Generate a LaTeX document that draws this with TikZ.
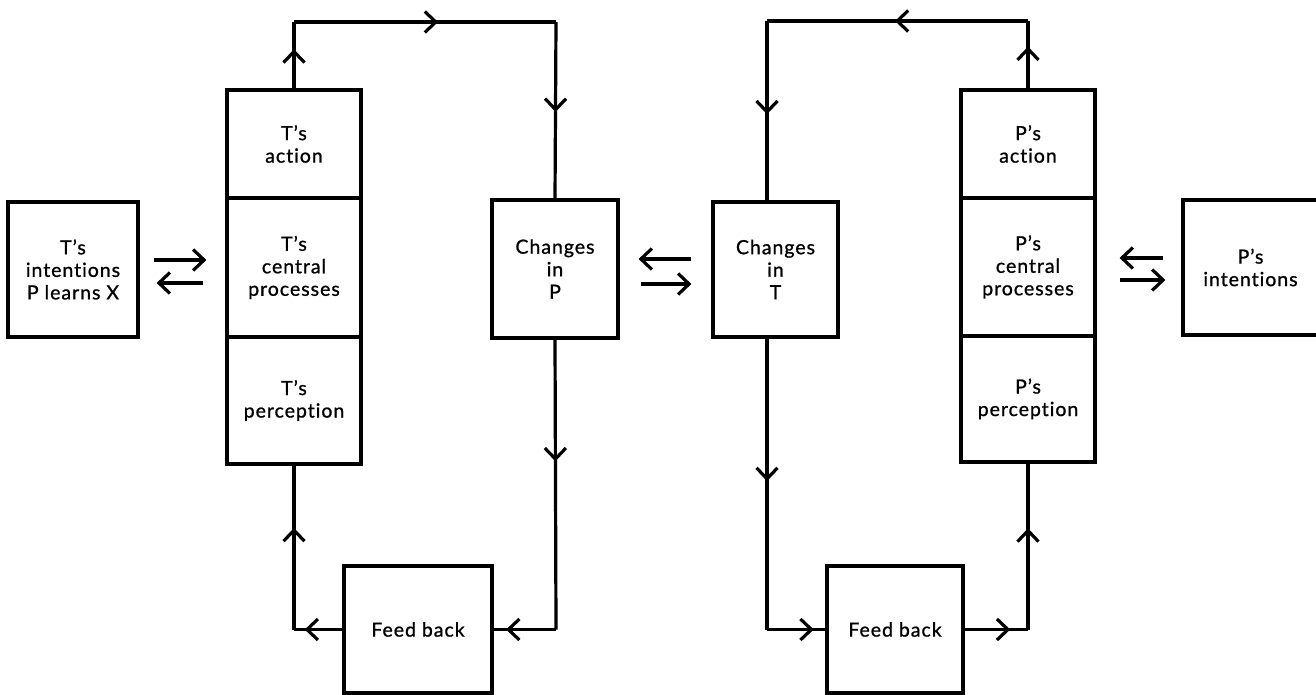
\documentclass[tikz,border=0pt]{standalone}
\usepackage{fontspec}
\setmainfont{Lato}[LetterSpace=5, FakeBold=1, Ligatures={TeX,NoCommon}]
\usetikzlibrary{arrows.meta,decorations.markings}

\tikzset{
  chev/.tip={Straight Barb[length=11pt,width=21pt]},
  box/.style={draw, line width=3.2pt, inner sep=0pt, align=center,
    font=\fontsize{19.5}{22.5}\selectfont},
  wire/.style={line width=3.2pt},
  arr/.style={wire, -chev},
  mid/.style={wire, postaction={decorate, decoration={markings,
    mark=at position #1 with {\arrow{chev}}}}},
}

\begin{document}
\begin{tikzpicture}[x=1pt, y=-1pt]
\useasboundingbox (0,0) rectangle (1316,695);

% teacher side
\node[box, minimum width=130pt, minimum height=135pt] (ti) at (73,269.5) {T’s\\intentions\\P learns X};
\node[box, minimum width=134pt, minimum height=108pt] (ta) at (294,144) {T’s\\action};
\node[box, minimum width=134pt, minimum height=139pt] (tc) at (294,267.5) {T’s\\central\\processes};
\node[box, minimum width=134pt, minimum height=127pt] (tp) at (294,400.5) {T’s\\perception};
\node[box, minimum width=126pt, minimum height=138pt] (cp) at (555,269) {Changes\\in\\P};
\node[box, minimum width=148pt, minimum height=127pt] (fl) at (418,629.5) {Feed back};

% pupil side
\node[box, minimum width=125pt, minimum height=135pt] (ct) at (775.5,269.5) {Changes\\in\\T};
\node[box, minimum width=136pt, minimum height=127pt] (fr) at (895,629.5) {Feed back};
\node[box, minimum width=134pt, minimum height=108pt] (pa) at (1028,144) {P’s\\action};
\node[box, minimum width=134pt, minimum height=138pt] (pc) at (1028,267) {P’s\\central\\processes};
\node[box, minimum width=134pt, minimum height=126pt] (pp) at (1028,399) {P’s\\perception};
\node[box, minimum width=135pt, minimum height=135pt] (pi) at (1250.5,267.5) {P’s\\intentions};

% corners of the left loop
\coordinate (lt1) at (294,22);
\coordinate (lt2) at (556,22);
\coordinate (lb1) at (556,629.5);
\coordinate (lb2) at (294,629.5);

\draw[mid=0.59]  (ta.north) -- (lt1);
\draw[mid=0.55]  (lt1) -- (lt2);
\draw[mid=0.51]  (lt2) -- (cp.north);
\draw[mid=0.42]  (cp.south) -- (lb1);
\draw[mid=0.8]   (lb1) -- (fl.east);
\draw[mid=0.78]  (fl.west) -- (lb2);
\draw[mid=0.62]  (lb2) -- (tp.south);

% corners of the right loop
\coordinate (rt1) at (1028,21);
\coordinate (rt2) at (767,21);
\coordinate (rb1) at (767,629.5);
\coordinate (rb2) at (1028,629.5);

\draw[mid=0.62]  (pa.north) -- (rt1);
\draw[mid=0.51]  (rt1) -- (rt2);
\draw[mid=0.52]  (rt2) -- (rt2 |- ct.north);
\draw[mid=0.49]  (rb1 |- ct.south) -- (rb1);
\draw[mid=0.8]   (rb1) -- (fr.west);
\draw[mid=0.72]  (fr.east) -- (rb2);
\draw[mid=0.61]  (rb2) -- (pp.south);

% paired exchange arrows
\draw[arr, shorten <=14pt, shorten >=19pt] ([yshift=9.5pt]ti.east) -- ([yshift=9.5pt]ti.east -| tc.west);
\draw[arr, shorten <=22pt, shorten >=17pt] ([yshift=-13.5pt]ti.east -| tc.west) -- ([yshift=-13.5pt]ti.east);

\draw[arr, shorten <=20pt, shorten >=19pt] ([yshift=10pt]cp.east -| ct.west) -- ([yshift=10pt]cp.east);
\draw[arr, shorten <=21pt, shorten >=20pt] ([yshift=-15pt]cp.east) -- ([yshift=-15pt]cp.east -| ct.west);

\draw[arr, shorten <=18pt, shorten >=23pt] ([yshift=9pt]pc.east -| pi.west) -- ([yshift=9pt]pc.east);
\draw[arr, shorten <=23pt, shorten >=16pt] ([yshift=-13pt]pc.east) -- ([yshift=-13pt]pc.east -| pi.west);
\end{tikzpicture}
\end{document}
